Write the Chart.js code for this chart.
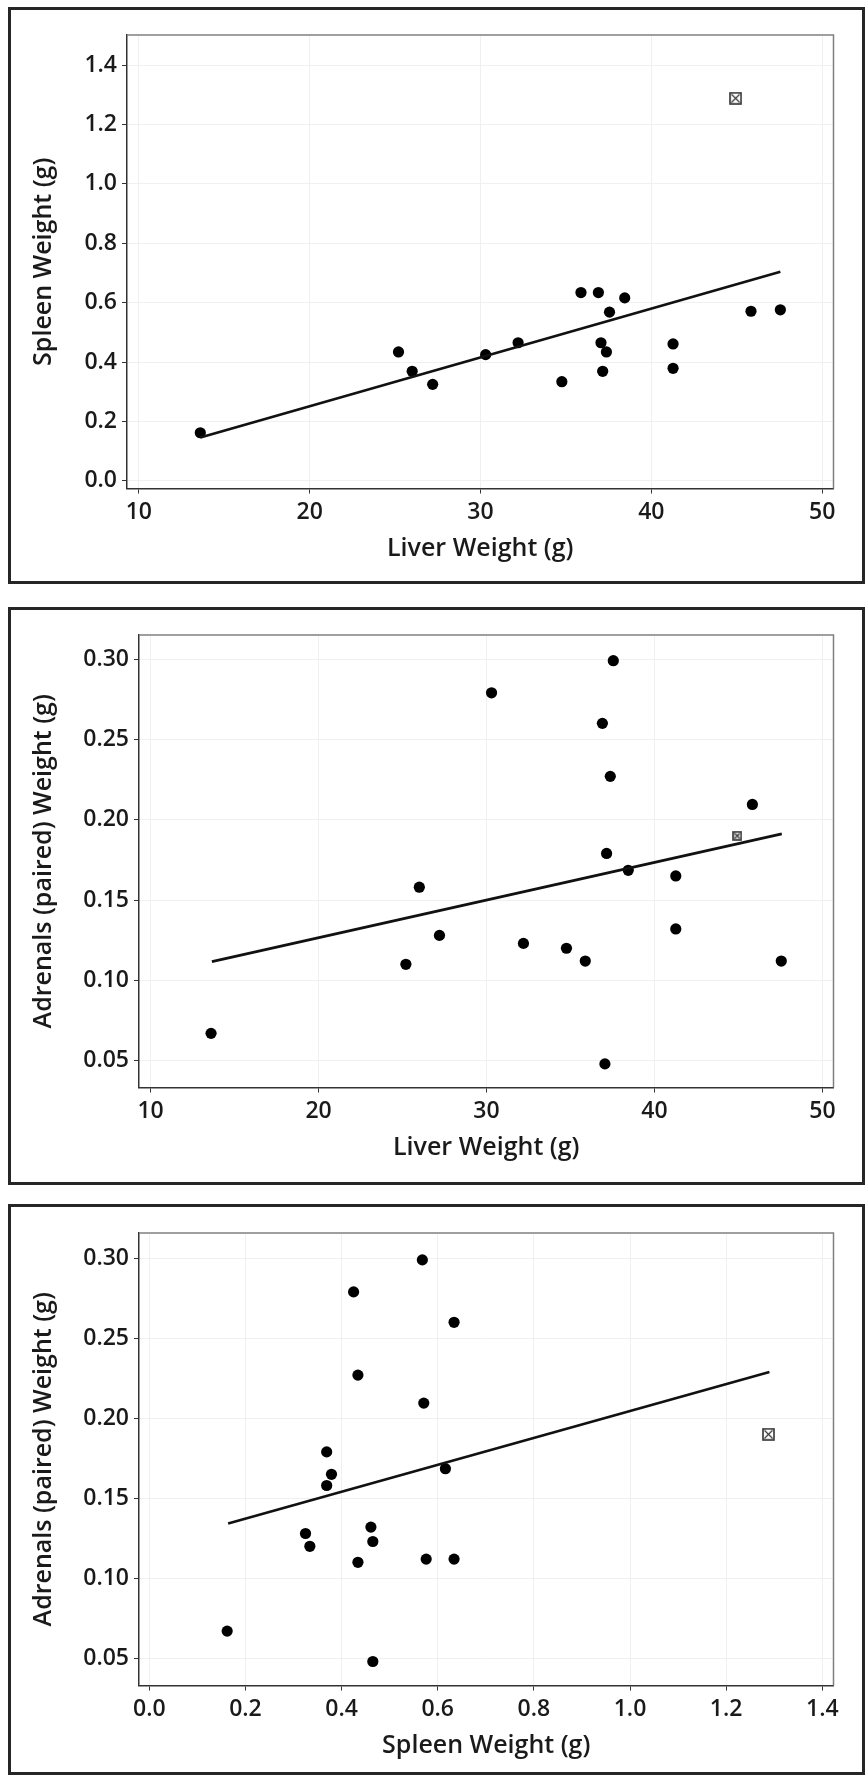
<!DOCTYPE html>
<html>
<head>
<meta charset="utf-8">
<script src="https://cdn.jsdelivr.net/npm/chart.js@4.4.1/dist/chart.umd.min.js"></script>
<style>
  body { margin: 0; background: #fff; width: 865px; height: 1775px; position: relative; overflow: hidden; }
  .frame { position: absolute; border: 3px solid #262626; box-sizing: border-box; }
  canvas { position: absolute; left: 0; }
</style>
</head>
<body>
<div class="frame" style="left:8px; top:7px; width:857px; height:577px"></div>
<div class="frame" style="left:8px; top:607px; width:857px; height:578px"></div>
<div class="frame" style="left:8px; top:1204px; width:857px; height:571px"></div>
<canvas id="c1"></canvas>
<canvas id="c2"></canvas>
<canvas id="c3"></canvas>
<script>
// one value per animal (outlier kept apart)
const liverWeight   = [13.6, 25.2, 26.0, 27.2, 30.3, 32.2, 34.76, 35.88, 36.9, 37.05, 37.15, 37.37, 37.55, 38.44, 41.27, 41.27, 45.83, 47.55];
const spleenWeight  = [0.162, 0.434, 0.369, 0.325, 0.425, 0.465, 0.334, 0.634, 0.634, 0.465, 0.369, 0.434, 0.568, 0.616, 0.461, 0.379, 0.571, 0.576];
const adrenalWeight = [0.067, 0.110, 0.158, 0.128, 0.279, 0.123, 0.120, 0.112, 0.260, 0.048, 0.179, 0.227, 0.299, 0.1685, 0.132, 0.165, 0.2095, 0.112];

// the boxed-x point
const outlierLiver = [44.93];
const outlierSpleen = [1.288];
const outlierAdrenal = [0.190];

// fitted lines (end points)
const fitSpleenByLiverX = [13.6, 47.55];
const fitSpleenByLiverY = [0.146, 0.704];
const fitAdrenalByLiverX = [13.65, 47.58];
const fitAdrenalByLiverY = [0.1117, 0.1912];
const fitAdrenalBySpleenX = [0.164, 1.29];
const fitAdrenalBySpleenY = [0.1342, 0.2289];

// tick labels
const liverTicks = [10, 20, 30, 40, 50];
const spleenTicks = [0.0, 0.2, 0.4, 0.6, 0.8, 1.0, 1.2, 1.4];
const adrenalTicks = [0.05, 0.10, 0.15, 0.20, 0.25, 0.30];

const FONT = "'Open Sans', 'Noto Sans', sans-serif";
const TXT = '#1a1a1a';

// square with an x, as drawn for the flagged point
function boxedX(size, fill) {
  const c = document.createElement('canvas');
  c.width = size; c.height = size;
  const g = c.getContext('2d');
  g.fillStyle = fill;
  g.fillRect(1, 1, size - 2, size - 2);
  g.strokeStyle = '#333';
  g.lineWidth = 1.6;
  g.strokeRect(1, 1, size - 2, size - 2);
  g.lineWidth = 1.1;
  g.beginPath();
  g.moveTo(2.5, 2.5); g.lineTo(size - 2.5, size - 2.5);
  g.moveTo(size - 2.5, 2.5); g.lineTo(2.5, size - 2.5);
  g.stroke();
  return c;
}

const pts = (xs, ys) => xs.map((x, i) => ({ x: x, y: ys[i] }));

// gray top / right edges of the plot box
const boxEdges = {
  id: 'boxEdges',
  beforeDatasetsDraw(chart) {
    const a = chart.chartArea, ctx = chart.ctx;
    ctx.save();
    ctx.strokeStyle = '#808080';
    ctx.lineWidth = 1.5;
    ctx.beginPath();
    ctx.moveTo(a.left, a.top); ctx.lineTo(a.right, a.top); ctx.lineTo(a.right, a.bottom);
    ctx.stroke();
    ctx.restore();
  }
};

function panel(id, p) {
  const cv = document.getElementById(id);
  cv.width = 865; cv.height = p.h;
  cv.style.top = p.top + 'px';
  const titleMidY = p.plot.b + 60.3 - p.top; // x title centre, canvas coords

  new Chart(cv, {
    type: 'scatter',
    data: {
      datasets: [
        { data: pts(p.fitX, p.fitY), showLine: true, borderColor: '#111', borderWidth: 2.7, pointRadius: 0, order: 0 },
        { data: pts(p.xs, p.ys), backgroundColor: '#000', borderWidth: 0, pointRadius: 5.6, order: 1 },
        { data: pts(p.ox, p.oy), pointStyle: boxedX(p.boxSize, p.boxFill), pointRadius: 7, order: 2 }
      ]
    },
    options: {
      responsive: false,
      animation: false,
      events: [],
      layout: { padding: { top: p.plot.t - p.top, right: 865 - p.plot.r, left: 0, bottom: 0 } },
      plugins: { legend: { display: false }, tooltip: { enabled: false } },
      scales: {
        x: {
          type: 'linear', min: p.xMin, max: p.xMax,
          afterBuildTicks: s => { s.ticks = p.xTicks.map(v => ({ value: v })); },
          afterFit: s => { s.height = p.top + p.h - p.plot.b; },
          grid: { color: '#f0f0f0', lineWidth: 1, tickColor: '#333', tickLength: 5 },
          border: { color: '#333', width: 1.5 },
          ticks: { color: TXT, padding: 5, maxRotation: 0, font: { family: FONT, size: 23, weight: '600', lineHeight: 1.2 }, callback: p.xFmt },
          title: { display: true, text: p.xTitle, color: TXT, font: { family: FONT, size: 25, weight: '600', lineHeight: 1.2 },
                   padding: { top: 0, bottom: p.h - titleMidY - 15 } }
        },
        y: {
          type: 'linear', min: p.yMin, max: p.yMax,
          afterBuildTicks: s => { s.ticks = p.yTicks.map(v => ({ value: v })); },
          afterFit: s => { s.width = p.plot.l; },
          grid: { color: '#f0f0f0', lineWidth: 1, tickColor: '#333', tickLength: 5 },
          border: { color: '#333', width: 1.5 },
          ticks: { color: TXT, padding: 5, font: { family: FONT, size: 23, weight: '600', lineHeight: 1.2 }, callback: p.yFmt },
          title: { display: true, text: p.yTitle, color: TXT, font: { family: FONT, size: 25, weight: '600', lineHeight: 1.2 },
                   padding: { top: 44 - 15, bottom: 0 } }
        }
      }
    },
    plugins: [boxEdges]
  });
}

panel('c1', {
  top: 0, h: 590, plot: { l: 127, t: 35, r: 833.5, b: 488.5 },
  xs: liverWeight, ys: spleenWeight, ox: outlierLiver, oy: outlierSpleen,
  fitX: fitSpleenByLiverX, fitY: fitSpleenByLiverY,
  xMin: 9.31, xMax: 50.66, yMin: -0.0256, yMax: 1.501,
  xTicks: liverTicks, yTicks: spleenTicks,
  xFmt: v => String(v), yFmt: v => v.toFixed(1),
  xTitle: 'Liver Weight (g)', yTitle: 'Spleen Weight (g)',
  boxSize: 13, boxFill: '#fff'
});

panel('c2', {
  top: 595, h: 595, plot: { l: 139, t: 635, r: 833.5, b: 1087.5 },
  xs: liverWeight, ys: adrenalWeight, ox: outlierLiver, oy: outlierAdrenal,
  fitX: fitAdrenalByLiverX, fitY: fitAdrenalByLiverY,
  xMin: 9.31, xMax: 50.66, yMin: 0.0333, yMax: 0.315,
  xTicks: liverTicks, yTicks: adrenalTicks,
  xFmt: v => String(v), yFmt: v => v.toFixed(2),
  xTitle: 'Liver Weight (g)', yTitle: 'Adrenals (paired) Weight (g)',
  boxSize: 10, boxFill: '#e4e4e4'
});

panel('c3', {
  top: 1190, h: 585, plot: { l: 139, t: 1233, r: 833.5, b: 1685.5 },
  xs: spleenWeight, ys: adrenalWeight, ox: outlierSpleen, oy: outlierAdrenal,
  fitX: fitAdrenalBySpleenX, fitY: fitAdrenalBySpleenY,
  xMin: -0.0214, xMax: 1.4233, yMin: 0.033, yMax: 0.3158,
  xTicks: spleenTicks, yTicks: adrenalTicks,
  xFmt: v => v.toFixed(1), yFmt: v => v.toFixed(2),
  xTitle: 'Spleen Weight (g)', yTitle: 'Adrenals (paired) Weight (g)',
  boxSize: 13, boxFill: '#fff'
});
</script>
</body>
</html>
